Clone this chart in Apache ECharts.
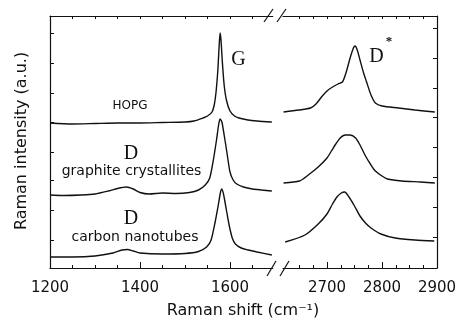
<!DOCTYPE html>
<html><head><meta charset="utf-8">
<script src="https://cdn.jsdelivr.net/npm/echarts@6/dist/echarts.min.js"></script>
<style>html,body{margin:0;padding:0;background:#fff}#c{width:460px;height:320px}</style>
</head><body><div id="c"></div>
<script>
// ---- data (Raman shift in cm^-1, intensity in arbitrary units, traces offset as in the figure) ----
const hopgLowX  = [1200,1250,1300,1350,1400,1450,1500,1520,1540,1550,1560,1565,1569,1573,1576,1578,1580,1583,1587,1592,1600,1610,1620,1640,1660,1693];
const hopgLowY  = [145,144,144.5,145,145,145.5,146,147,150,152,156,163,176,198,223,235,228,206,183,168,157,152,150,148,147,146];
const graphLowX = [1200,1230,1270,1300,1330,1350,1370,1385,1400,1420,1450,1480,1510,1530,1545,1555,1563,1570,1575,1578,1582,1587,1593,1600,1607,1615,1630,1650,1670,1693];
const graphLowY = [73,72.5,73,74,77,79.5,81,79,75.5,74,75,74.5,75.5,78,83,90,108,128,144,149,146,133,116,96,88,84,81,79,78,77];
const cntLowX   = [1200,1250,1300,1340,1360,1372,1385,1400,1450,1500,1530,1548,1558,1567,1574,1579,1582,1586,1592,1598,1605,1612,1625,1640,1660,1693];
const cntLowY   = [11,11,12,15,18,18.5,17,15,14,14.5,16.5,21,28,46,63,76,79,73,58,43,30,24,20,18,16,13];

const hopgHighX  = [2621,2649,2670,2680,2690,2700,2710,2720,2728,2735,2742,2748,2751,2755,2760,2766,2772,2780,2788,2800,2830,2860,2896];
const hopgHighY  = [156,158,160,164,171,177,181,184,186,196,210,220,222,218,208,196,186,173,165,162,160,158,156];
const graphHighX = [2621,2650,2666,2684,2700,2708,2716,2724,2733,2742,2752,2760,2770,2780,2788,2800,2810,2836,2870,2896];
const graphHighY = [85,87,93,101,110,117,124,130,133,133,130,123,112,103,97,92,89,87,86,85];
const cntHighX   = [2624,2660,2684,2700,2710,2718,2726,2732,2740,2750,2760,2770,2780,2798,2824,2860,2895];
const cntHighY   = [26,33,44,54,64,71,75,76,71,62,52,45,40,34,30,28,27];

// ---- axes / ticks ----
const lowLabels   = [1200,1400,1600];
const lowMinor    = [1250,1300,1350,1450,1500,1550,1650];
const lowMajor    = [1400,1600];
const lowTop      = [1250,1300,1350,1400,1450,1500,1550,1600,1650];
const highLabels  = [2700,2800,2900];
const highMinor   = [2650,2675,2725,2750,2775,2825,2850,2875];
const highMajor   = [2700,2800];
const highTop     = [2650,2675,2700,2725,2750,2775,2800,2825,2850,2875];
const yTicksLeft  = [28,58,88,116,146,175,205,235];
const yTicksRight = [31,61,91,121,151,180,210,240];

const zip = (xs, ys) => xs.map((x, i) => [x, ys[i]]);
const FONT = 'DejaVu Sans';
const black = '#111';

function xAx(grid, pos, min, max, opts) {
  return Object.assign({
    type: 'value', gridIndex: grid, position: pos, min: min, max: max,
    splitLine: { show: false },
    axisLine: { show: true, lineStyle: { color: black, width: 1.2 } },
    axisTick: { show: false },
    axisLabel: { show: false },
    minorTick: { show: false }
  }, opts);
}
const plain = v => String(v);

const chart = echarts.init(document.getElementById('c'), null, { renderer: 'canvas' });
const line = (name, x, y, xi, yi) => ({
  name, type: 'line', data: zip(x, y), xAxisIndex: xi, yAxisIndex: yi,
  symbol: 'none', smooth: 0.25, silent: true,
  lineStyle: { color: black, width: 1.4 }
});

chart.setOption({
  animation: false,
  backgroundColor: '#fff',
  grid: [
    { left: 50, top: 16, width: 222.75, height: 252 },
    { left: 283, top: 16, width: 154, height: 252 }
  ],
  xAxis: [
    xAx(0, 'bottom', 1200, 1695, {
      axisTick: { show: true, inside: true, length: 3, customValues: lowMinor, lineStyle: { color: black } },
      axisLabel: { show: true, customValues: lowLabels, formatter: plain, margin: 13, fontFamily: FONT, fontSize: 15, color: black }
    }),
    xAx(0, 'bottom', 1200, 1695, {
      axisLine: { show: false },
      axisTick: { show: true, inside: true, length: 6, customValues: lowMajor, lineStyle: { color: black } }
    }),
    xAx(0, 'top', 1200, 1695, {
      axisTick: { show: true, inside: true, length: 3, customValues: lowTop, lineStyle: { color: black } }
    }),
    xAx(1, 'bottom', 2620, 2900, {
      axisTick: { show: true, inside: true, length: 3, customValues: highMinor, lineStyle: { color: black } },
      axisLabel: { show: true, customValues: highLabels, formatter: plain, margin: 13, fontFamily: FONT, fontSize: 15, color: black }
    }),
    xAx(1, 'bottom', 2620, 2900, {
      axisLine: { show: false },
      axisTick: { show: true, inside: true, length: 6, customValues: highMajor, lineStyle: { color: black } }
    }),
    xAx(1, 'top', 2620, 2900, {
      axisTick: { show: true, inside: true, length: 3, customValues: highTop, lineStyle: { color: black } }
    })
  ],
  yAxis: [
    { type: 'value', gridIndex: 0, position: 'left', min: 0, max: 252, splitLine: { show: false },
      axisLine: { show: true, lineStyle: { color: black, width: 1.2 } },
      axisTick: { show: true, inside: true, length: 4, customValues: yTicksLeft, lineStyle: { color: black } },
      axisLabel: { show: false } },
    { type: 'value', gridIndex: 1, position: 'right', min: 0, max: 252, splitLine: { show: false },
      axisLine: { show: true, lineStyle: { color: black, width: 1.2 } },
      axisTick: { show: true, inside: true, length: 4, customValues: yTicksRight, lineStyle: { color: black } },
      axisLabel: { show: false } }
  ],
  series: [
    line('HOPG', hopgLowX, hopgLowY, 0, 0),
    line('graphite crystallites', graphLowX, graphLowY, 0, 0),
    line('carbon nanotubes', cntLowX, cntLowY, 0, 0),
    line('HOPG D*', hopgHighX, hopgHighY, 3, 1),
    line('graphite crystallites D*', graphHighX, graphHighY, 3, 1),
    line('carbon nanotubes D*', cntHighX, cntHighY, 3, 1)
  ],
  graphic: [
    // axis-break marks
    { type: 'line', shape: { x1: 264, y1: 22, x2: 273, y2: 9 }, style: { stroke: black, lineWidth: 1.2 } },
    { type: 'line', shape: { x1: 277, y1: 22, x2: 286, y2: 9 }, style: { stroke: black, lineWidth: 1.2 } },
    { type: 'line', shape: { x1: 267, y1: 276, x2: 276, y2: 261 }, style: { stroke: black, lineWidth: 1.2 } },
    { type: 'line', shape: { x1: 280, y1: 276, x2: 289, y2: 261 }, style: { stroke: black, lineWidth: 1.2 } },
    // peak labels
    { type: 'text', x: 238.5, y: 60, style: { text: 'G', font: '20px "Liberation Serif"', fill: black, align: 'center', verticalAlign: 'middle' } },
    { type: 'text', x: 376.5, y: 57, style: { text: 'D', font: '20px "Liberation Serif"', fill: black, align: 'center', verticalAlign: 'middle' } },
    { type: 'text', x: 389, y: 42, style: { text: '*', font: 'bold 13px "Liberation Serif"', fill: black, align: 'center', verticalAlign: 'middle' } },
    { type: 'text', x: 131, y: 153.5, style: { text: 'D', font: '20px "Liberation Serif"', fill: black, align: 'center', verticalAlign: 'middle' } },
    { type: 'text', x: 131, y: 218.5, style: { text: 'D', font: '20px "Liberation Serif"', fill: black, align: 'center', verticalAlign: 'middle' } },
    // sample names
    { type: 'text', x: 130, y: 106, style: { text: 'HOPG', font: '12px "DejaVu Sans"', fill: black, align: 'center', verticalAlign: 'middle' } },
    { type: 'text', x: 131.5, y: 171, style: { text: 'graphite crystallites', font: '14px "DejaVu Sans"', fill: black, align: 'center', verticalAlign: 'middle' } },
    { type: 'text', x: 135, y: 237, style: { text: 'carbon nanotubes', font: '14px "DejaVu Sans"', fill: black, align: 'center', verticalAlign: 'middle' } },
    // axis titles
    { type: 'text', x: 22, y: 141, rotation: Math.PI / 2, style: { text: 'Raman intensity (a.u.)', font: '16px "DejaVu Sans"', fill: black, align: 'center', verticalAlign: 'middle' } },
    { type: 'text', x: 243, y: 311, style: { text: 'Raman shift (cm⁻¹)', font: '16px "DejaVu Sans"', fill: black, align: 'center', verticalAlign: 'middle' } }
  ]
});
</script></body></html>
